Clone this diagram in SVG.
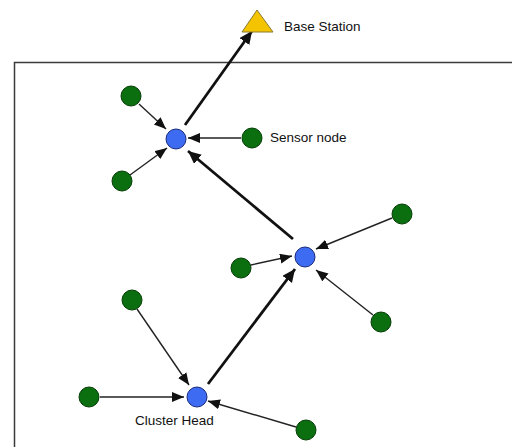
<svg xmlns="http://www.w3.org/2000/svg" width="512" height="447" viewBox="0 0 512 447">
<style>
.g{fill:#0b6e0f;stroke:#063d08;stroke-width:1}
.b{fill:#3d6cf2;stroke:#1a2a7a;stroke-width:1}
.t{font-family:"Liberation Sans",Arial,sans-serif;font-size:13.5px;fill:#111}
.thin{stroke:#222;stroke-width:1.4;fill:none}
.thick{stroke:#111;stroke-width:2.8;fill:none}
</style>
<defs>
<marker id="ah" markerUnits="userSpaceOnUse" markerWidth="14" markerHeight="12" refX="12" refY="5" orient="auto">
<path d="M0,0 L12,5 L0,10 Z" fill="#111"/>
</marker>
<marker id="ahT" markerUnits="userSpaceOnUse" markerWidth="16" markerHeight="14" refX="13" refY="6" orient="auto">
<path d="M0,0 L13,6 L0,12 Z" fill="#111"/>
</marker>
</defs>
<rect width="512" height="447" fill="#fff"/>
<path d="M14.5,447 V62.5 H512" fill="none" stroke="#3a3a3a" stroke-width="1.5"/>
<g id="connectors">
<line class="thick" x1="185" y1="125" x2="252" y2="31" marker-end="url(#ahT)"/>
<line class="thick" x1="293" y1="239" x2="188" y2="151" marker-end="url(#ahT)"/>
<line class="thick" x1="208" y1="384" x2="295" y2="269" marker-end="url(#ahT)"/>
<line class="thin" x1="139" y1="104" x2="166" y2="129" marker-end="url(#ah)"/>
<line class="thin" x1="241" y1="138" x2="188" y2="138" marker-end="url(#ah)"/>
<line class="thin" x1="130" y1="175" x2="167" y2="148" marker-end="url(#ah)"/>
<line class="thin" x1="392" y1="218" x2="316" y2="249" marker-end="url(#ah)"/>
<line class="thin" x1="251" y1="265" x2="292" y2="256" marker-end="url(#ah)"/>
<line class="thin" x1="373" y1="315" x2="316" y2="270" marker-end="url(#ah)"/>
<line class="thin" x1="137" y1="309" x2="189" y2="385" marker-end="url(#ah)"/>
<line class="thin" x1="100" y1="397" x2="184" y2="397" marker-end="url(#ah)"/>
<line class="thin" x1="296" y1="427" x2="208" y2="401" marker-end="url(#ah)"/>
</g>
<g id="base-station">
<polygon points="257,10 273,32 242,32" fill="#f5c400" stroke="#8a7a30" stroke-width="1"/>
<text class="t" x="284" y="31">Base Station</text>
</g>
<g id="ch1"><circle class="b" cx="176" cy="139" r="10"/></g>
<g id="ch2"><circle class="b" cx="305" cy="257" r="10"/></g>
<g id="ch3"><circle class="b" cx="197" cy="397" r="10"/><text class="t" x="135" y="425">Cluster Head</text></g>
<g id="s1"><circle class="g" cx="131" cy="96" r="10"/></g>
<g id="s2"><circle class="g" cx="122" cy="181" r="10"/></g>
<g id="s3"><circle class="g" cx="252" cy="138" r="10"/><text class="t" x="270" y="142">Sensor node</text></g>
<g id="s4"><circle class="g" cx="402" cy="214" r="10"/></g>
<g id="s5"><circle class="g" cx="241" cy="268" r="10"/></g>
<g id="s6"><circle class="g" cx="381" cy="322" r="10"/></g>
<g id="s7"><circle class="g" cx="132" cy="300" r="10"/></g>
<g id="s8"><circle class="g" cx="89" cy="397" r="10"/></g>
<g id="s9"><circle class="g" cx="306" cy="430" r="10"/></g>
</svg>
